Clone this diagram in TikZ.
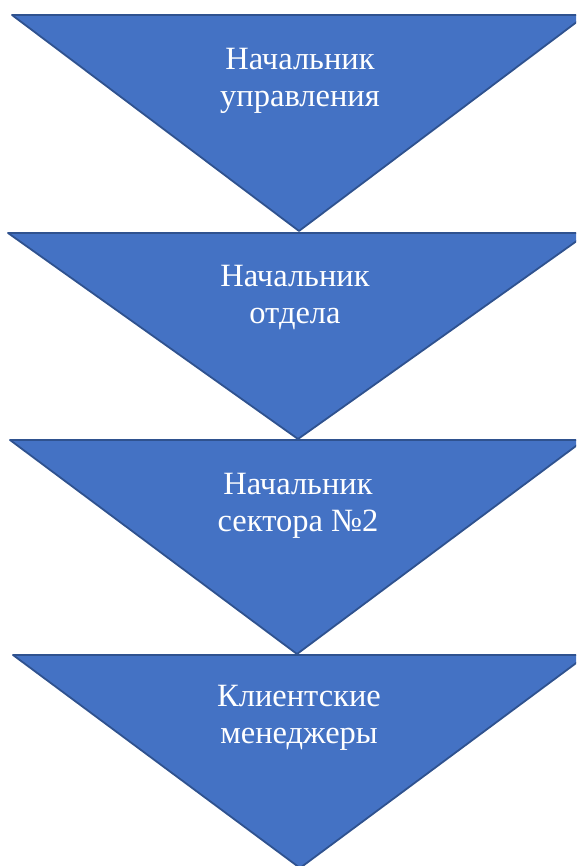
\documentclass[tikz,border=0pt]{standalone}
\usepackage{fontspec}
\setmainfont{Liberation Serif}
\usepackage{xcolor}
\definecolor{triblue}{HTML}{4472C4}
\definecolor{triedge}{HTML}{2F528F}

\tikzset{
	tri/.style={fill=triblue, draw=triedge, line width=1.8pt, line join=round},
	lbl/.style={text=white, align=center, inner sep=0pt,
		font=\rmfamily\fontsize{32.5}{37}\selectfont}
}

\begin{document}
\begin{tikzpicture}[x=1pt, y=-1pt]
				\useasboundingbox (0,0) rectangle (576,866);
				\clip (0,0) rectangle (576,866);

				% levels, top to bottom
				\draw[tri] (12,15) -- (586,15) -- (299,231) -- cycle;
				\draw[tri] (8,233) -- (588,233) -- (298,439) -- cycle;
				\draw[tri] (10,440) -- (584,440) -- (297,654) -- cycle;
				\draw[tri] (13,655) -- (587,655) -- (300,868) -- cycle;

				\node[lbl] (boss) at (300,81) {Начальник\\управления};
				\node[lbl] (head) at (295,298) {Начальник\\отдела};
				\node[lbl] (sector) at (298,506) {Начальник\\сектора №2};
				\node[lbl] (managers) at (299,718) {Клиентские\\менеджеры};
			\end{tikzpicture}
\end{document}
